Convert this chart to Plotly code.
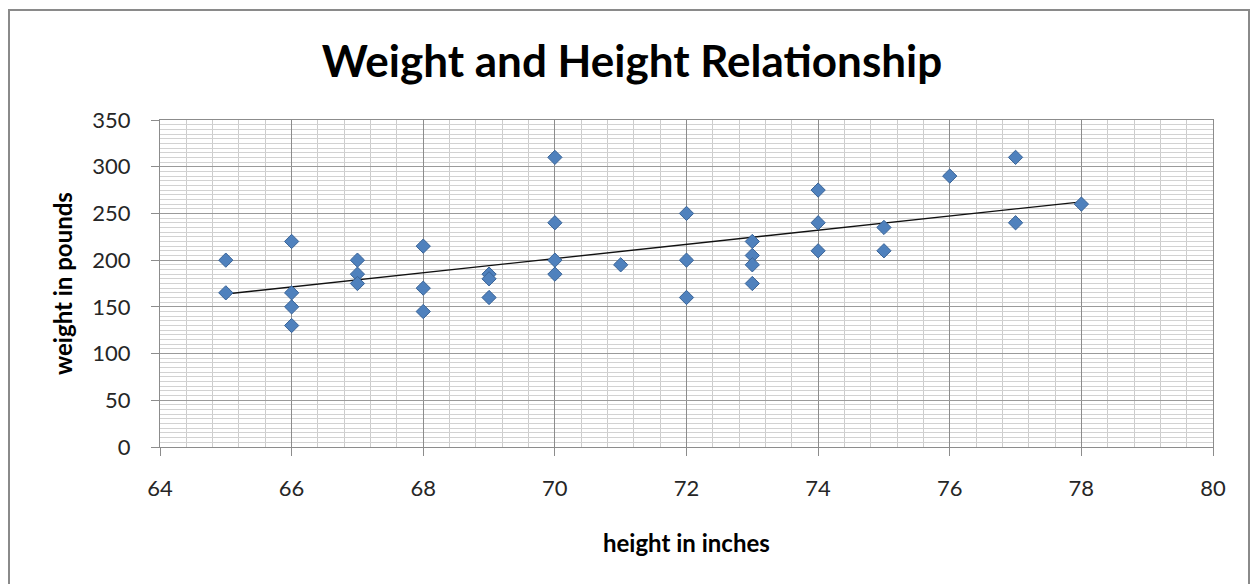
import numpy as np
import plotly.graph_objects as go

# Data
height_in = [65, 65,
             66, 66, 66, 66,
             67, 67, 67,
             68, 68, 68,
             69, 69, 69,
             70, 70, 70, 70,
             71,
             72, 72, 72,
             73, 73, 73, 73,
             74, 74, 74,
             75, 75,
             76,
             77, 77,
             78]
weight_lb = [200, 165,
             220, 165, 150, 130,
             200, 185, 175,
             215, 170, 145,
             185, 180, 160,
             310, 240, 200, 185,
             195,
             250, 200, 160,
             220, 205, 195, 175,
             275, 240, 210,
             235, 210,
             290,
             310, 240,
             260]

x_ticks = [64, 66, 68, 70, 72, 74, 76, 78, 80]
y_ticks = [0, 50, 100, 150, 200, 250, 300, 350]

title_text = "Weight and Height Relationship"
x_title = "height in inches"
y_title = "weight in pounds"

# Linear trendline (least squares) over the data range
slope, intercept = np.polyfit(height_in, weight_lb, 1)
trend_x = [min(height_in), max(height_in)]
trend_y = [slope * v + intercept for v in trend_x]

FONT = "Lato"

fig = go.Figure()
fig.add_trace(go.Scatter(
    x=trend_x, y=trend_y, mode="lines",
    line=dict(color="#111111", width=1.4),
    hoverinfo="skip", showlegend=False,
))
fig.add_trace(go.Scatter(
    x=height_in, y=weight_lb, mode="markers",
    marker=dict(symbol="diamond", size=11, color="#4F81BD",
                line=dict(color="#3A6497", width=1)),
    showlegend=False,
))

W, H = 1251, 584
L, R, T, B = 160, W - 1213, 120, H - 447
pw, ph = W - L - R, H - T - B

def px_x(p):
    return (p - L) / pw

def px_y(p):
    return (H - B - p) / ph

fig.update_layout(
    width=W, height=H,
    margin=dict(l=L, r=R, t=T, b=B, pad=0),
    paper_bgcolor="white", plot_bgcolor="white",
    font=dict(family=FONT, color="#262626"),
    title=dict(text=f"<b>{title_text}</b>", x=632 / W, xref="container",
               xanchor="center", y=1 - 62 / H, yref="container", yanchor="middle",
               font=dict(size=44, color="#000000", family=FONT)),
    xaxis=dict(
        range=[64, 80], tickvals=x_ticks, ticktext=[str(v) for v in x_ticks],
        showgrid=True, gridcolor="#8c8c8c", gridwidth=1,
        minor=dict(dtick=0.4, tick0=64, showgrid=True, gridcolor="#cccccc", gridwidth=1),
        showline=True, linecolor="#8c8c8c", linewidth=1, mirror=True,
        ticks="outside", ticklen=8, tickcolor="#8c8c8c",
        ticklabelstandoff=14,
        tickfont=dict(size=22, color="#262626"), zeroline=False,
    ),
    yaxis=dict(
        range=[0, 350], tickvals=y_ticks, ticktext=[str(v) for v in y_ticks],
        showgrid=True, gridcolor="#9a9a9a", gridwidth=1,
        minor=dict(dtick=5, tick0=0, showgrid=True, gridcolor="#d2d2d2", gridwidth=1),
        showline=True, linecolor="#8c8c8c", linewidth=1, mirror=True,
        ticks="outside", ticklen=8, tickcolor="#8c8c8c",
        ticklabelstandoff=16,
        tickfont=dict(size=22, color="#262626"), zeroline=False,
    ),
    annotations=[
        dict(text=f"<b>{x_title}</b>", xref="paper", yref="paper",
             x=px_x(686), y=px_y(542), xanchor="center", yanchor="middle",
             showarrow=False, font=dict(size=24, color="#000000", family=FONT)),
        dict(text=f"<b>{y_title}</b>", xref="paper", yref="paper",
             x=px_x(62), y=px_y(284), xanchor="center", yanchor="middle",
             textangle=-90, showarrow=False,
             font=dict(size=24, color="#000000", family=FONT)),
    ],
    shapes=[
        dict(type="rect", xref="paper", yref="paper",
             x0=px_x(9), x1=px_x(1249), y0=px_y(600), y1=px_y(10),
             line=dict(color="#8a8a8a", width=2), fillcolor="rgba(0,0,0,0)",
             layer="below"),
    ],
)

fig.write_html("out.html",
               config={"displayModeBar": False},
               post_script="document.body.style.margin='0';document.body.style.overflow='hidden';")
